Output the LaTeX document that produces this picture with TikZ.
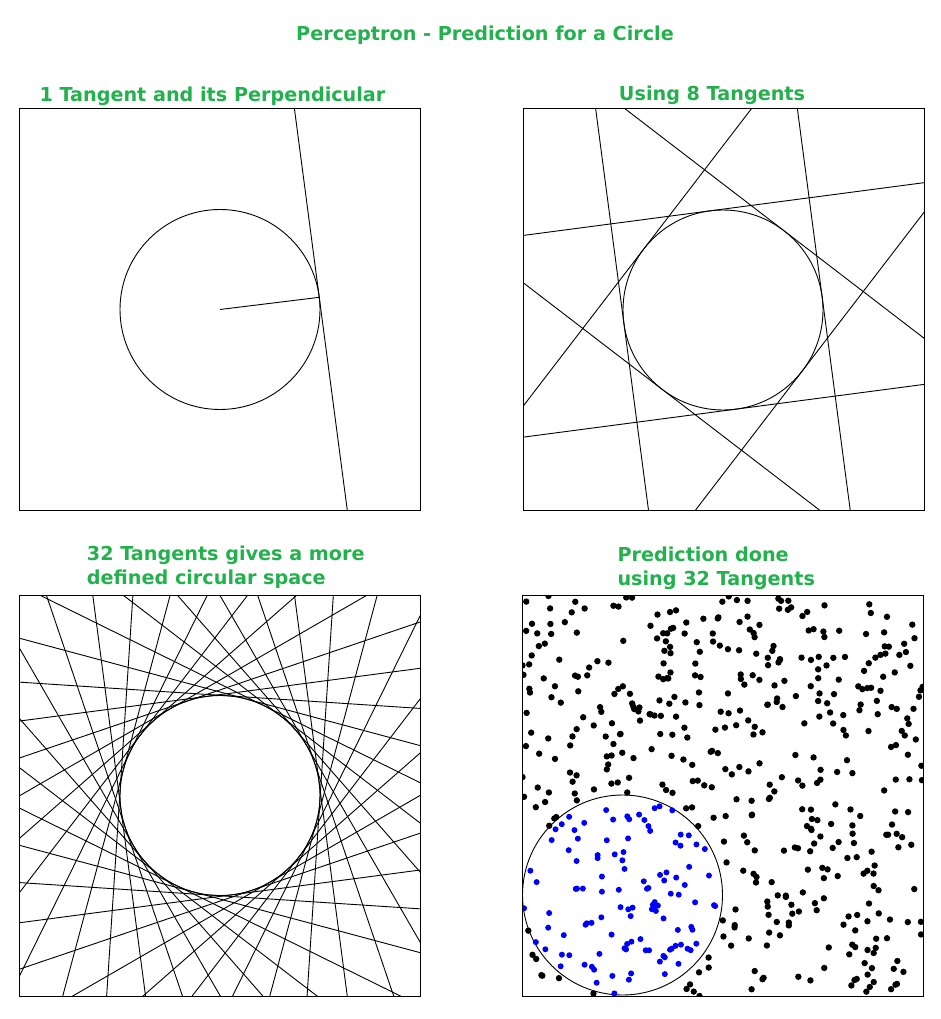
\documentclass[tikz,border=0pt]{standalone}
\usepackage{fontspec}
\usepackage{xcolor}
\usepackage{tikz}
\newfontfamily\headfont{DejaVu Sans}
\definecolor{pgreen}{RGB}{34,177,76}
\definecolor{pblue}{RGB}{0,0,255}

\begin{document}
\begin{tikzpicture}[x=1pt, y=-1pt,
    panel/.style = {rectangle, draw, line width=1pt, minimum size=401pt,
                    inner sep=0pt, outer sep=0pt, anchor=north west},
    ring/.style  = {circle, draw, line width=0.9pt, minimum size=200pt,
                    inner sep=0pt, outer sep=0pt},
    tan/.style   = {line width=0.9pt},
    ttl/.style   = {font=\headfont\bfseries\fontsize{19.2}{24}\selectfont,
                    text=pgreen, inner sep=0pt, align=left}
]
\useasboundingbox (0,0) rectangle (941,1019);

\node[ttl, anchor=base]      (main) at (485,40.7) {Perceptron - Prediction for a Circle};
\node[ttl, anchor=base west] (h1)   at (39.3,101.5) {1 Tangent and its Perpendicular};
\node[ttl, anchor=base]      (h2)   at (712,100.5) {Using 8 Tangents};
\node[ttl, anchor=base west] (h3)   at (86.7,584.5) {32 Tangents gives a more\\defined circular space};
\node[ttl, anchor=base west] (h4)   at (617.3,585.7) {Prediction done\\using 32 Tangents};

\node[panel] (p1) at (19,109)  {};
\node[panel] (p2) at (523,109) {};
\node[panel] (p3) at (19,595)  {};
\node[panel] (p4) at (522,595) {};

\node[ring] (c1) at (220,309.5) {};
\node[ring] (c2) at (723,310)   {};
\node[ring] (c3) at (220,795.5) {};
\node[ring] (c4) at (622.5,895) {};

\begin{scope}
  \clip (p1.north west) rectangle (p1.south east);
  \draw[tan, shift={(c1.center)}, rotate=7.5] (100,-400) -- (100,400);
\end{scope}
\draw[tan] (c1.center) -- (c1.7.5);

\begin{scope}
  \clip (p2.north west) rectangle (p2.south east);
  \foreach \a in {7.5,52.5,...,322.5}
    \draw[tan, shift={(c2.center)}, rotate=\a] (100,-400) -- (100,400);
\end{scope}

\begin{scope}
  \clip (p3.north west) rectangle (p3.south east);
  \foreach \k in {0,...,31}
    \draw[tan, shift={(c3.center)}, rotate=7.5+11.25*\k] (100,-400) -- (100,400);
\end{scope}

\begin{scope}
  \clip (p4.north west) rectangle (p4.south east);
  \pgfmathsetseed{2718}
  \foreach \i in {1,...,560}{
    \pgfmathsetmacro{\px}{522+401*rnd}
    \pgfmathsetmacro{\py}{595+401*rnd}
    \pgfmathtruncatemacro{\inside}{(((\px-622.5)/100)^2+((\py-895)/100)^2<1) ? 1 : 0}
    \ifnum\inside=1
      \fill[pblue] (\px,\py) circle[radius=3pt];
    \else
      \fill (\px,\py) circle[radius=3.2pt];
    \fi
  }
\end{scope}

\draw[line width=1pt] (p1.north west) rectangle (p1.south east);
\draw[line width=1pt] (p2.north west) rectangle (p2.south east);
\draw[line width=1pt] (p3.north west) rectangle (p3.south east);
\draw[line width=1pt] (p4.north west) rectangle (p4.south east);
\end{tikzpicture}
\end{document}
